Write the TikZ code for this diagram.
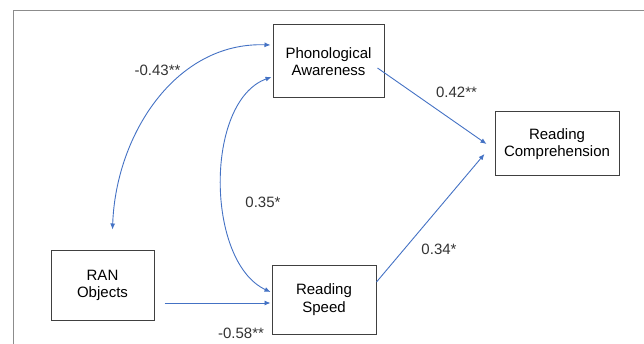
\documentclass[tikz,border=0pt]{standalone}
\usepackage{fontspec}
\setmainfont{Liberation Sans}
\usetikzlibrary{arrows.meta}
\definecolor{pathblue}{HTML}{4472C4}
\definecolor{boxgray}{HTML}{404040}
\definecolor{framegray}{HTML}{8C8C8C}
\tikzset{
	var_node/.style = {
		draw=boxgray,
		line width=1pt,
		align=center,
		inner sep=0pt,
		font=\fontsize{15}{17.5}\selectfont
	},
	coef_node/.style = {
		inner sep=0pt,
		text=black!80,
		font=\fontsize{15}{17.5}\selectfont
	},
	path_arrow/.style = {
		draw=pathblue,
		line width=0.9pt,
		-{Latex[length=6pt,width=5pt]}
	},
	cov_arrow/.style = {
		draw=pathblue,
		line width=0.9pt,
		{Latex[length=6pt,width=5pt]}-{Latex[length=6pt,width=5pt]}
	},
}

\begin{document}
\begin{tikzpicture}[x=1pt,y=-1pt]
\useasboundingbox (0,0) rectangle (644,344);
\draw [framegray, line width=1pt] (13,11) rectangle (700,400);

% variables
\node [var_node, minimum width=111, minimum height=73] (pa) at (328.5,61.5) {Phonological\\Awareness};
\node [var_node, minimum width=124, minimum height=64] (rc) at (557,144) {Reading\\Comprehension};
\node [var_node, minimum width=103, minimum height=69] (ran) at (102.5,285.5) {RAN\\Objects};
\node [var_node, minimum width=104, minimum height=69] (rs) at (324,299.5) {Reading\\Speed};

% paths
\draw [path_arrow] ([xshift=-7,yshift=-6.5]pa.east) -- ([xshift=-8]rc.west);
\draw [path_arrow] ([yshift=17.5]rs.east) -- ([xshift=-10,yshift=-10]rc.west);
\draw [path_arrow] ([xshift=10,yshift=-17.5]ran.east) -- ([xshift=-1,yshift=-3.5]rs.west);
\draw [cov_arrow] ([xshift=10,yshift=21]ran.north) to[out=88, in=178] ([xshift=-2,yshift=16.5]pa.west);
\draw [cov_arrow] ([xshift=-1,yshift=-15.5]pa.west) to[out=200, in=155, looseness=0.85] ([xshift=-1,yshift=7.5]rs.west);

% coefficients
\node [coef_node] (c_ranpa) at (157.5,70) {-0.43**};
\node [coef_node] (c_parc) at (456.5,92) {0.42**};
\node [coef_node] (c_pars) at (263,202) {0.35*};
\node [coef_node] (c_rsrc) at (439,249) {0.34*};
\node [coef_node] (c_ranrs) at (241,333) {-0.58**};
\end{tikzpicture}
\end{document}
